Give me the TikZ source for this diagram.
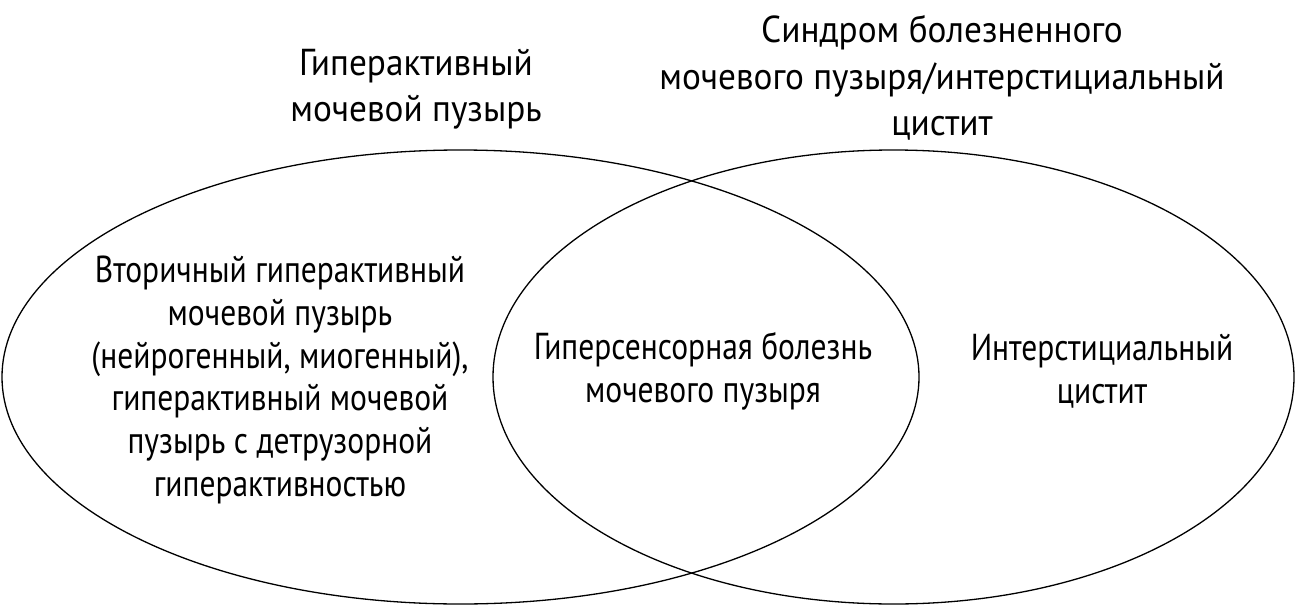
\documentclass[tikz,border=0pt]{standalone}
\usepackage{fontspec}
\setmainfont[FakeStretch=0.84]{PT Sans}
\newfontfamily\ttlfont[FakeStretch=0.94]{PT Sans}
\begin{document}
\begin{tikzpicture}[x=1pt,y=-1pt,
  lbl/.style={align=center,font=\fontsize{37.5}{42.7}\selectfont,inner sep=0pt},
  ttl/.style={align=center,font=\ttlfont\fontsize{37.5}{46.5}\selectfont,inner sep=0pt},
  ell/.style={draw=black,line width=1.3pt}]
\useasboundingbox (0,0) rectangle (1301,605);
\fill[white] (0,0) rectangle (1301,605);
\draw[ell] (460.5,377) ellipse [x radius=458.5, y radius=227];
\draw[ell] (893.5,377) ellipse [x radius=400.5, y radius=227];
\node[ttl] (t1) at (416,89) {Гиперактивный\\мочевой пузырь};
\node[ttl] (t2) at (942,78) {Синдром болезненного\\мочевого пузыря/интерстициальный\\цистит};
\node[lbl] (a) at (280,380) {Вторичный гиперактивный\\мочевой пузырь\\(нейрогенный, миогенный),\\гиперактивный мочевой\\пузырь с детрузорной\\гиперактивностью};
\node[lbl] (b) at (703,371) {Гиперсенсорная болезнь\\мочевого пузыря};
\node[lbl] (c) at (1102,371) {Интерстициальный\\цистит};
\end{tikzpicture}
\end{document}
